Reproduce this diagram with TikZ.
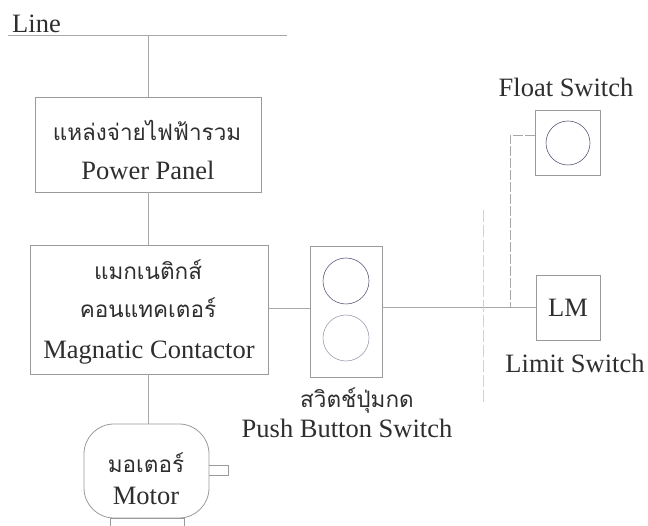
\documentclass[tikz,border=0pt]{standalone}
\usepackage{fontspec}
\setmainfont{Liberation Serif}
\newfontfamily\thaifont[Script=Thai]{Loma}
\definecolor{txt}{HTML}{2E2E2E}
\definecolor{boxc}{HTML}{9A9A9A}
\definecolor{wire}{HTML}{A8A8A8}
\definecolor{faint}{HTML}{D2D2D2}
\definecolor{circ}{HTML}{5E5878}
\begin{document}
\begin{tikzpicture}[x=1pt,y=-1pt,
  every node/.style={text=txt, font=\fontsize{26.5}{29}\selectfont},
  blk/.style={draw=boxc, line width=0.8pt, inner sep=0pt, rectangle},
  lbl/.style={anchor=base, inner sep=0pt},
  thl/.style={anchor=base, inner sep=0pt, font=\fontsize{22.5}{26}\thaifont},
  wireline/.style={draw=wire, line width=0.8pt},
  faintline/.style={draw=faint, line width=0.8pt},
  knob/.style={draw=circ, line width=0.6pt, circle, inner sep=0pt}
]
\useasboundingbox (0,0) rectangle (648,526);

% Line bus
\node[lbl, anchor=base west] (linelbl) at (12,33) {Line};
\coordinate (busL) at (8,35);
\coordinate (busR) at (287,35);
\coordinate (tap) at (148,35);
\draw[wireline] (busL) -- (busR);

% Power panel
\node[blk, minimum width=226pt, minimum height=95pt] (power) at (148,144.5) {};
\node[thl] (powerth) at (147,141) {แหล่งจ่ายไฟฟ้ารวม};
\node[lbl] (poweren) at (148,180) {Power Panel};
\draw[wireline] (tap) -- (power.north);

% Magnetic contactor
\node[blk, minimum width=238pt, minimum height=129pt] (contactor) at (149,309.5) {};
\node[thl] (cth1) at (148,280) {แมกเนติกส์};
\node[thl] (cth2) at (148,318) {คอนแทคเตอร์};
\node[lbl] (cen) at (149,359) {Magnatic Contactor};
\draw[wireline] (power.south) -- (power.south |- contactor.north);

% Push button
\node[blk, minimum width=72pt, minimum height=131pt] (push) at (346,311.5) {};
\node[knob, minimum size=46pt] (btn1) at (346,281) {};
\node[knob, minimum size=46pt, draw=circ!60] (btn2) at (346,338) {};
\node[thl] (pth) at (357,408) {สวิตช์ปุ่มกด};
\node[lbl] (pen) at (347,438) {Push Button Switch};
\draw[wireline] (contactor.east |- 0,308) -- (push.west |- 0,308);

% Limit switch
\node[blk, minimum width=64pt, minimum height=65pt] (lm) at (568,307.5) {};
\node[lbl] (lmtxt) at (568,317) {LM};
\node[lbl] (lmlbl) at (575,373) {Limit Switch};
\draw[wireline] (push.east |- 0,307) -- (lm.west |- 0,307);

% Float switch
\node[blk, minimum width=65pt, minimum height=65pt] (float) at (567.5,142.5) {};
\node[knob, minimum size=44pt] (fball) at (568,143) {};
\node[lbl] (flbl) at (566,97) {Float Switch};
\coordinate (fcorner) at (510,135);
\coordinate (fjoin) at (510,307);
\draw[wireline, dash pattern=on 10pt off 2pt] (float.west |- fcorner) -- (fcorner) -- (fjoin);

% faint vertical line
\coordinate (vtop) at (483,210);
\coordinate (vbot) at (483,402);
\draw[faintline, dash pattern=on 12pt off 3pt] (vtop) -- (vbot);

% Motor
\node[draw=boxc, line width=0.8pt, rounded corners=30pt, minimum width=125pt, minimum height=94pt, inner sep=0pt] (motor) at (146.5,471) {};
\node[thl] (mth) at (146,472) {มอเตอร์};
\node[lbl] (men) at (146,504) {Motor};
\draw[wireline] (contactor.south -| 148,0) -- (motor.north -| 148,0);
\coordinate (shaftA) at (209,465);
\coordinate (shaftB) at (228,475);
\draw[draw=boxc, line width=0.8pt] (motor.east |- shaftA) -- (shaftA -| shaftB) -- (shaftB) -- (motor.east |- shaftB);
\coordinate (baseA) at (110,518);
\coordinate (baseB) at (184,530);
\draw[draw=boxc, line width=0.8pt] (baseA) -- (baseA |- baseB) (baseB |- baseA) -- (baseB) (baseA) -- (baseB |- baseA);
\end{tikzpicture}
\end{document}
